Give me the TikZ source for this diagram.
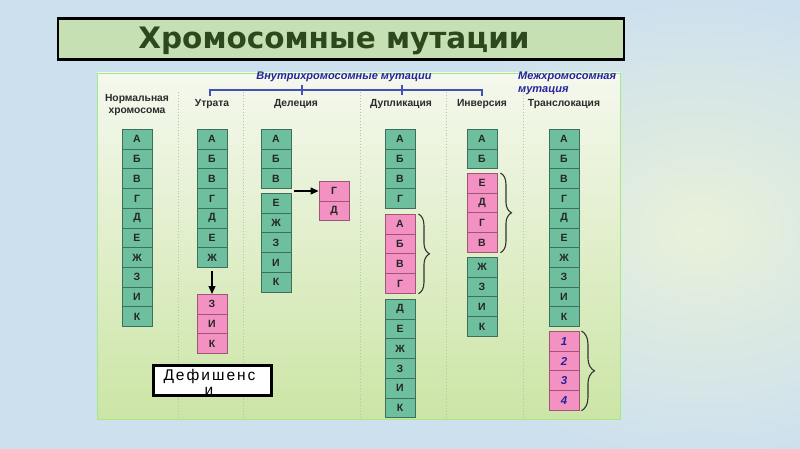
\documentclass[tikz,border=0pt]{standalone}
\usepackage{fontspec}
\setmainfont{Liberation Sans}
\newfontfamily\titlefont{DejaVu Sans}
\newfontfamily\defifont[LetterSpace=13]{Liberation Sans}
\usetikzlibrary{decorations.pathreplacing,arrows.meta,calc}

\definecolor{bgblue}{HTML}{CDE0EE}
\definecolor{bgglow}{HTML}{E8F1D9}
\definecolor{paneltop}{HTML}{F5F8EE}
\definecolor{panelbot}{HTML}{CCE5A6}
\definecolor{titlefill}{HTML}{C6E0B4}
\definecolor{titletext}{HTML}{2C481D}
\definecolor{cellgreen}{HTML}{6DBF9D}
\definecolor{cellgreenline}{HTML}{3D6F5C}
\definecolor{cellpink}{HTML}{F392C2}
\definecolor{cellpinkline}{HTML}{9E5577}
\definecolor{headblue}{HTML}{24239C}
\definecolor{bracketblue}{HTML}{4450B4}
\definecolor{sepgray}{HTML}{B3C8A3}
\definecolor{headtext}{HTML}{2B2B2B}

\newcommand{\genecol}[5]{%
  \foreach \g [count=\i] in {#5} {
    \node[#4] (#1\i) at (#2, {#3+(\i-1)*19.7}) {\g};
  }%
}

\begin{document}
\begin{tikzpicture}[x=1pt,y=-1pt,
  cellbase/.style={draw, line width=0.9pt, minimum width=30pt, minimum height=19.7pt,
    inner sep=0pt, anchor=north, font=\bfseries\fontsize{10.5}{11}\selectfont, text=black!85},
  gcell/.style={cellbase, fill=cellgreen, draw=cellgreenline},
  pcell/.style={cellbase, fill=cellpink, draw=cellpinkline},
  ncell/.style={cellbase, fill=cellpink, draw=cellpinkline,
    font=\bfseries\itshape\fontsize{11.5}{12}\selectfont, text=headblue},
  colhead/.style={font=\bfseries\fontsize{10.3}{12}\selectfont, text=headtext, align=center, inner sep=0pt},
  bluehead/.style={font=\bfseries\itshape\fontsize{11}{13}\selectfont, text=headblue, inner sep=0pt},
  arr/.style={line width=1.3pt, -{Triangle[length=8pt,width=7pt]}},
  bracebr/.style={line width=1.1pt, draw=black!80, decorate, decoration={brace, amplitude=11pt}},
  sepline/.style={draw=sepgray, line width=0.9pt, dotted},
  bluebr/.style={draw=bracketblue, line width=1.2pt},
  deftxt/.style={font=\defifont\fontsize{15.5}{15}\selectfont, anchor=base, inner sep=0pt}
]
\useasboundingbox (0,0) rectangle (800,449);

% background
\fill[bgblue] (0,0) rectangle (800,449);
\shade[inner color=bgglow, outer color=bgblue] (700,230) ellipse (300 and 230);

% title
\node[draw=black, line width=2.2pt, fill=titlefill, minimum width=566pt, minimum height=41pt,
  inner sep=0pt] (titlebox) at (341,39) {};
\node[font=\titlefont\bfseries\fontsize{29.5}{32}\selectfont, text=titletext, inner sep=0pt]
  (title) at (334,41) {Хромосомные мутации};

% panel
\shade[top color=paneltop, bottom color=panelbot] (97,73) rectangle (620,419);
\draw[draw=panelbot!80!green, line width=0.8pt] (97,73) rectangle (620,419);

% separators
\foreach \sx in {178,243,360,446,523} {\draw[sepline] (\sx,92) -- (\sx,418);}

% headers
\node[bluehead] (intra) at (344,77) {Внутрихромосомные мутации};
\node[bluehead, anchor=west, align=left] (inter) at (518,83.5) {Межхромосомная\\мутация};
\draw[bluebr] (210,96) -- (210,90) -- (482,90) -- (482,96);
\draw[bluebr] (302,85) -- (302,95);
\draw[bluebr] (402,85) -- (402,95);

\node[colhead] (hnorm) at (137,105) {Нормальная\\хромосома};
\node[colhead] (hutr) at (212,104) {Утрата};
\node[colhead] (hdel) at (296,104) {Делеция};
\node[colhead] (hdup) at (401,104) {Дупликация};
\node[colhead] (hinv) at (482,104) {Инверсия};
\node[colhead] (htr) at (564,104) {Транслокация};

% normal chromosome
\genecol{n}{137}{129}{gcell}{А,Б,В,Г,Д,Е,Ж,З,И,К}
% loss
\genecol{u}{212}{129}{gcell}{А,Б,В,Г,Д,Е,Ж}
\genecol{z}{212}{294}{pcell}{З,И,К}
\draw[arr, shorten <=3pt] (u7.south) -- (z1.north);
% deletion
\genecol{d}{276}{129}{gcell}{А,Б,В}
\genecol{e}{276}{193}{gcell}{Е,Ж,З,И,К}
\genecol{g}{334}{181}{pcell}{Г,Д}
\coordinate (gap) at ($(d3.south east)!0.5!(e1.north east)$);
\draw[arr] ([xshift=3pt]gap) -- (gap -| g1.west);
% duplication
\genecol{p}{400}{129}{gcell}{А,Б,В,Г}
\genecol{q}{400}{214}{pcell}{А,Б,В,Г}
\genecol{r}{400}{299}{gcell}{Д,Е,Ж,З,И,К}
\draw[bracebr] ([xshift=3pt]q1.north east) -- ([xshift=3pt]q4.south east);
% inversion
\genecol{i}{482}{129}{gcell}{А,Б}
\genecol{j}{482}{173}{pcell}{Е,Д,Г,В}
\genecol{k}{482}{257}{gcell}{Ж,З,И,К}
\draw[bracebr] ([xshift=3pt]j1.north east) -- ([xshift=3pt]j4.south east);
% translocation
\genecol{t}{564}{129}{gcell}{А,Б,В,Г,Д,Е,Ж,З,И,К}
\genecol{s}{564}{331}{ncell}{1,2,3,4}
\draw[bracebr, decoration={brace, amplitude=13pt}] ([xshift=2pt]s1.north east) -- ([xshift=2pt]s4.south east);

% deficiency label
\node[draw=black, line width=2.4pt, fill=white, minimum width=117pt, minimum height=28.5pt,
  inner sep=0pt] (defbox) at (212.5,380.5) {};
\begin{scope}
  \clip (defbox.north west) rectangle (defbox.south east);
  \node[deftxt] (deftext1) at (209.5,380) {Дефишенс};
  \node[deftxt] (deftext2) at (209,395) {и};
\end{scope}
\draw[draw=black, line width=2.4pt] (defbox.north west) rectangle (defbox.south east);
\end{tikzpicture}
\end{document}
